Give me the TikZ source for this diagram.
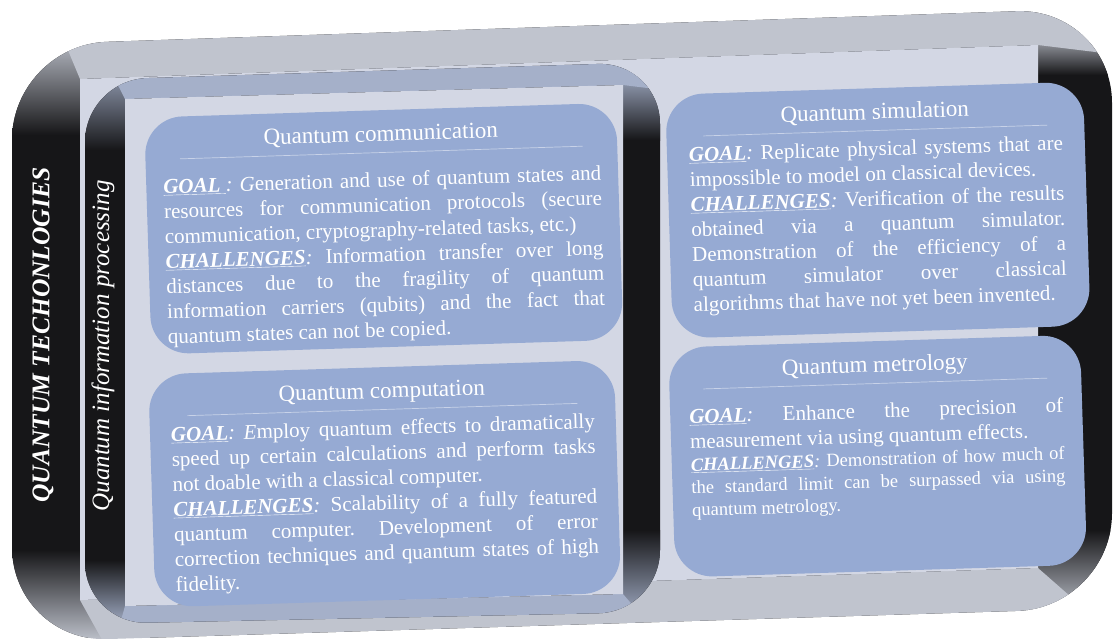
\documentclass[tikz,border=0pt]{standalone}
\usepackage{fontspec}
\setmainfont{Liberation Serif}
\definecolor{qdark}{RGB}{22, 22, 24}
\definecolor{qtop}{RGB}{192, 196, 206}
\definecolor{qface}{RGB}{211, 215, 228}
\definecolor{qinner}{RGB}{165, 176, 201}
\definecolor{qcard}{RGB}{150, 170, 211}
\definecolor{qrule}{RGB}{200, 210, 232}
\newcommand{\qkey}[1]{\underline{\textbf{\textit{#1}}}}
\newcommand{\cardfont}{\fontsize{21}{25}\selectfont\frenchspacing\hyphenpenalty=10000\relax}
\newcommand{\cardhead}[2]{%
  \makebox[\linewidth][c]{\fontsize{23}{26}\selectfont\smash{#1}}\par
  \nointerlineskip\vspace{11pt}%
  \makebox[\linewidth][c]{\color{qrule}\rule{0.92\linewidth}{0.7pt}}\par
  \vspace{#2}}

\begin{document}
\begin{tikzpicture}[
  x=1pt, y=-1pt,
  cardbox/.style={fill=qcard, rounded corners=38pt, text=white, align=justify, anchor=north, rotate=1.8, inner ysep=12pt, text height=19pt, font=\cardfont},
  sidelabel/.style={text=white, rotate=90, inner sep=0pt}
]
  \useasboundingbox (0,0) rectangle (1115,638);

  \begin{scope}
    \clip[rounded corners=95pt] (12,45) -- (1112,8) -- (1112,608) -- (12,642) -- cycle;
    \fill[qdark] (0,0) rectangle (1115,638);
    \shade[top color=qtop, bottom color=qdark] (12,35) rectangle (85,135);
    \shade[top color=qtop, bottom color=qdark] (1030,30) rectangle (1115,75);
    \shade[top color=qdark, bottom color=qtop] (1030,530) rectangle (1115,615);
    \shade[top color=qdark, bottom color=qtop] (12,550) rectangle (115,642);
    \fill[qtop] (45,-5) -- (1120,-5) -- (1120,55) -- (1038,45) -- (80,79) -- cycle;
    \fill[qtop] (80,600) -- (1038,568) -- (1120,640) -- (105,645) -- cycle;
  \end{scope}
  \fill[qface] (80,79) -- (1038,45) -- (1038,568) -- (80,600) -- cycle;

  \begin{scope}
    \clip[rounded corners=62pt] (85,80) -- (660,62) -- (660,612) -- (85,624) -- cycle;
    \fill[qdark] (80,55) rectangle (665,630);
    \shade[top color=qinner, bottom color=qdark] (85,60) rectangle (125,150);
    \shade[top color=qinner, bottom color=qdark] (620,70) rectangle (662,140);
    \shade[top color=qdark, bottom color=qinner] (620,530) rectangle (662,620);
    \shade[top color=qdark, bottom color=qinner] (85,560) rectangle (125,626);
    \fill[qinner] (100,50) -- (680,50) -- (680,92) -- (623,85) -- (125,99) -- cycle;
    \fill[qinner] (125,606) -- (623,594) -- (680,660) -- (110,660) -- cycle;
  \end{scope}
  \fill[qface] (125,99) -- (623,85) -- (623,594) -- (125,606) -- cycle;

  \node[cardbox, text width=438pt, inner xsep=17pt, text depth=194pt] (qcomm) at (380,110) {%
    \cardhead{Quantum communication}{9pt}%
    \qkey{GOAL\ }\textit{:} \textit{G}eneration and use of quantum states and\linebreak
    resources for communication protocols (secure\linebreak
    communication, cryptography-related tasks, etc.)\par
    \qkey{CHALLENGES}\textit{:} Information transfer over long\linebreak
    distances due to the fragility of quantum\linebreak
    information carriers (qubits) and the fact that\linebreak
    quantum states can not be copied.};
  \node[cardbox, text width=424pt, inner xsep=21pt, text depth=190pt] (qcomp) at (381,367) {%
    \cardhead{Quantum computation}{0pt}%
    \qkey{GOAL}\textit{:} \textit{E}mploy quantum effects to dramatically\linebreak
    speed up certain calculations and perform tasks\linebreak
    not doable with a classical computer.\par
    \qkey{CHALLENGES}\textit{:} Scalability of a fully featured\linebreak
    quantum computer. Development of error\linebreak
    correction techniques and quantum states of high\linebreak
    fidelity.};
  \node[cardbox, text width=374pt, inner xsep=22pt, text depth=201pt] (qsim) at (874,88) {%
    \cardhead{Quantum simulation}{0pt}%
    \qkey{GOAL}\textit{:} Replicate physical systems that are\linebreak
    impossible to model on classical devices.\par
    \qkey{CHALLENGES}\textit{:} Verification of the results\linebreak
    obtained via a quantum simulator.\linebreak
    Demonstration of the efficiency of a\linebreak
    quantum simulator over classical\linebreak
    algorithms that have not yet been invented.};
  \node[cardbox, text width=374pt, inner xsep=19pt, text depth=187pt] (qmetro) at (874,341) {%
    \cardhead{Quantum metrology}{9pt}%
    \qkey{GOAL}\textit{:} Enhance the precision of\linebreak
    measurement via using quantum effects.\par
    {\fontsize{18.5}{22.5}\selectfont\qkey{CHALLENGES}\textit{:} Demonstration of how much of\linebreak
    the standard limit can be surpassed via using\linebreak
    quantum metrology.\par}};

  \node[sidelabel, font=\fontsize{25.5}{28}\selectfont\bfseries\itshape] (qtech) at (43,335) {QUANTUM TECHONLOGIES};
  \node[sidelabel, font=\fontsize{25}{28}\selectfont\itshape] (qinfo) at (103,346) {Quantum information processing};
\end{tikzpicture}
\end{document}
